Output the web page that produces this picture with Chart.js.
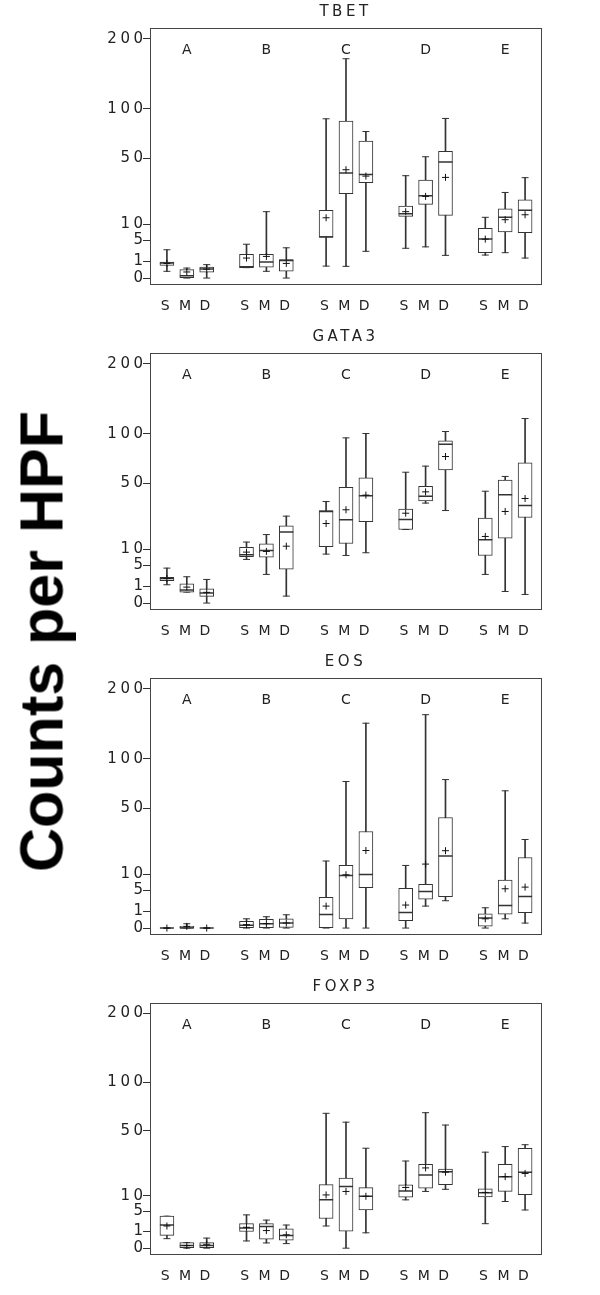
<!DOCTYPE html>
<html>
<head>
<meta charset="utf-8">
<script src="https://cdn.jsdelivr.net/npm/chart.js@4.4.1/dist/chart.umd.min.js"></script>
<style>
  html, body { margin: 0; padding: 0; background: #fff; }
  body { width: 600px; height: 1295px; position: relative; overflow: hidden; }
  canvas { position: absolute; left: 0; }
  #ylabel {
    position: absolute; left: -263px; top: 611px; width: 600px; height: 61px;
    line-height: 61px; font: bold 61px "Liberation Sans", Arial, sans-serif;
    text-align: center; color: #000; transform: rotate(-90deg);
  }
</style>
</head>
<body>
<canvas id="c0" width="600" height="325" style="top:0px"></canvas>
<canvas id="c1" width="600" height="325" style="top:325px"></canvas>
<canvas id="c2" width="600" height="325" style="top:650px"></canvas>
<canvas id="c3" width="600" height="320" style="top:975px"></canvas>
<div id="ylabel">Counts per HPF</div>
<script>
// Categories and axis ticks
const groups = ["A", "B", "C", "D", "E"];
const subsets = ["S", "M", "D"];
const yTicks = [0, 1, 5, 10, 50, 100, 200];

// Box stats per box, order: A-S, A-M, A-D, B-S, ... E-D
const tbetLow  = [0.16, 0, 0, 0.38, 0.16, 0, 0.5, 0.48, 2.5, 3.1, 3.4, 1.8, 1.85, 2.25, 1.4];
const tbetQ1   = [0.56, 0, 0.12, 0.38, 0.42, 0.17, 5.9, 24.9, 31.8, 13.3, 19, 13.7, 2.25, 7.4, 7.2];
const tbetMed  = [0.79, 0.02, 0.28, 0.45, 0.89, 1.09, 5.9, 38.5, 37.5, 14.5, 23.7, 47, 5.3, 12.9, 16.1];
const tbetQ3   = [0.89, 0.25, 0.42, 1.96, 1.96, 1.18, 16, 86, 65.5, 18.1, 33.5, 56, 8.6, 16.8, 21.4];
const tbetHigh = [2.8, 0.35, 0.63, 4.0, 15.4, 3.2, 88.6, 168, 75, 36.6, 51.4, 89, 12.9, 25.6, 35.2];
const tbetMean = [0.75, 0.13, 0.28, 1.4, 1.64, 0.75, 12.7, 41, 36.3, 15.4, 23.3, 35.4, 5.3, 11.9, 14];

const gataLow  = [1.17, 0.42, 0, 6.65, 2.87, 0.17, 8.37, 7.92, 8.84, 18.9, 34.9, 29.9, 2.87, 0.47, 0.26];
const gataQ1   = [1.74, 0.42, 0.16, 7.49, 7.38, 4.03, 11.1, 12.4, 23.1, 18.9, 36.5, 62, 7.9, 14.7, 25.6];
const gataMed  = [2.12, 0.59, 0.35, 8.15, 9.67, 17.7, 29.3, 24.2, 40.2, 24.4, 39.9, 88.2, 14, 40.9, 33.3];
const gataQ3   = [2.3, 1.3, 0.72, 10.9, 12.3, 20.9, 29.9, 46.7, 54.8, 30.8, 47.5, 91.9, 25.2, 52.8, 68.7];
const gataHigh = [4.27, 2.42, 1.95, 13, 16.4, 26.4, 36, 95.3, 100.4, 59.8, 65.5, 102.8, 43.7, 56, 118.9];
const gataMean = [2.12, 0.89, 0.4, 9.07, 9.31, 11.3, 22.1, 30.4, 40.7, 28.2, 43.2, 75, 15.5, 29.3, 38.2];

const eosLow  = [0, 0, 0, 0, 0, 0, 0, 0, 0, 0, 1.69, 2.61, 0, 0.3, 0.087];
const eosQ1   = [0, 0, 0, 0, 0, 0.002, 0, 0.3, 5.67, 0.19, 2.93, 3.42, 0.014, 0.68, 0.82];
const eosMed  = [0, 0, 0, 0.03, 0.065, 0.087, 0.65, 9.67, 10, 0.86, 4.69, 18.2, 0.35, 1.79, 3.5];
const eosQ3   = [0, 0.01, 0, 0.155, 0.26, 0.3, 3.28, 13.7, 32.6, 5.49, 6.65, 42.7, 0.72, 8.04, 17.4];
const eosHigh = [0, 0.065, 0, 0.3, 0.45, 0.62, 15.7, 75, 146.6, 13.7, 159, 77, 1.44, 65.8, 27.4];
const eosMean = [0, 0.01, 0, 0.04, 0.07, 0.09, 1.69, 9.92, 21, 1.85, 14.3, 20.9, 0.3, 5.4, 5.86];

const foxLow  = [0.33, 0, 0, 0.19, 0.1, 0.076, 1.79, 0, 0.86, 8.49, 11.7, 12.6, 2.18, 7.92, 5.3];
const foxQ1   = [0.59, 0, 0, 1.01, 0.3, 0.24, 3.21, 1.05, 5.3, 9.43, 13.1, 14.7, 9.55, 11.7, 10.4];
const foxMed  = [1.95, 0.025, 0.025, 1.49, 1.7, 0.59, 8.49, 13.8, 9.8, 11.9, 19.4, 21.2, 11.2, 18.6, 20.9];
const foxQ3   = [3.72, 0.11, 0.11, 2.18, 2.18, 1.35, 14.7, 17.9, 13.3, 14.6, 25.6, 22.7, 12.8, 25.6, 36.3];
const foxHigh = [3.72, 0.11, 0.37, 4.03, 2.87, 1.95, 66.1, 57.7, 36.3, 27.6, 66.7, 55.1, 33.5, 37.5, 38.9];
const foxMean = [1.79, 0.025, 0.056, 1.59, 1.13, 0.65, 10.3, 11.7, 9.8, 13.4, 23.4, 21, 11.3, 18.6, 20.3];

const panels = [
    { id: "c0", title: "TBET", low: tbetLow, q1: tbetQ1, med: tbetMed, q3: tbetQ3, high: tbetHigh, mean: tbetMean },
    { id: "c1", title: "GATA3", low: gataLow, q1: gataQ1, med: gataMed, q3: gataQ3, high: gataHigh, mean: gataMean },
    { id: "c2", title: "EOS", low: eosLow, q1: eosQ1, med: eosMed, q3: eosQ3, high: eosHigh, mean: eosMean },
    { id: "c3", title: "FOXP3", low: foxLow, q1: foxQ1, med: foxMed, q3: foxQ3, high: foxHigh, mean: foxMean }
];

const lineColor = "#333";
const textColor = "#222";
const fontFamily = '"DejaVu Sans", sans-serif';

// each group takes 4 slots on the x axis: 3 boxes and a gap
const xPos = groups.flatMap((g, gi) => subsets.map((s, si) => gi * 4 + si));

// y axis is square-root scaled
const pts = arr => arr.map((v, i) => ({ x: xPos[i], y: Math.sqrt(v) }));
const spans = (lo, hi) => lo.map((v, i) => ({ x: xPos[i], y: [Math.sqrt(v), Math.sqrt(hi[i])] }));

// Frame round the plot area and group letters at its top
const framePlugin = {
    id: "frame",
    beforeDraw(chart) {
        chart.ctx.letterSpacing = "3.5px";
    },
    afterDraw(chart) {
        const { ctx, chartArea: a } = chart;
        const x = chart.scales.x;
        ctx.save();
        ctx.strokeStyle = "#444";
        ctx.lineWidth = 1;
        ctx.strokeRect(Math.round(a.left) + 0.5, Math.round(a.top) + 0.5,
            Math.round(a.right - a.left), Math.round(a.bottom - a.top));
        ctx.letterSpacing = "0px";
        ctx.font = "14px " + fontFamily;
        ctx.fillStyle = textColor;
        ctx.textAlign = "center";
        ctx.textBaseline = "middle";
        groups.forEach((g, gi) => ctx.fillText(g, x.getPixelForValue(gi * 4 + 1), a.top + 23));
        ctx.restore();
    }
};

function makeChart(p) {
    const ctx = document.getElementById(p.id).getContext("2d");
    new Chart(ctx, {
        type: "bar",
        data: {
            datasets: [
                {
                    // whiskers
                    type: "bar",
                    data: spans(p.low, p.high),
                    backgroundColor: lineColor,
                    borderWidth: 0,
                    barThickness: 1,
                    grouped: false,
                    order: 5
                },
                {
                    // whisker caps
                    type: "scatter",
                    data: pts(p.low).concat(pts(p.high)),
                    pointStyle: "line",
                    pointRadius: 3.5,
                    pointBorderColor: lineColor,
                    pointBorderWidth: 1,
                    order: 4
                },
                {
                    // boxes
                    type: "bar",
                    data: spans(p.q1, p.q3),
                    backgroundColor: "#fff",
                    borderColor: lineColor,
                    borderWidth: 1,
                    borderSkipped: false,
                    barThickness: 14,
                    grouped: false,
                    order: 3
                },
                {
                    // medians
                    type: "scatter",
                    data: pts(p.med),
                    pointStyle: "line",
                    pointRadius: 7,
                    pointBorderColor: lineColor,
                    pointBorderWidth: 1.5,
                    order: 2
                },
                {
                    // means
                    type: "scatter",
                    data: pts(p.mean),
                    pointStyle: "cross",
                    pointRadius: 3.5,
                    pointBorderColor: "#111",
                    pointBorderWidth: 1,
                    order: 1
                }
            ]
        },
        options: {
            responsive: false,
            animation: false,
            events: [],
            devicePixelRatio: 1,
            layout: { padding: { left: 90, right: 59, top: 0, bottom: 0 } },
            plugins: {
                legend: { display: false },
                tooltip: { enabled: false },
                title: {
                    display: true,
                    fullSize: false,
                    text: p.title,
                    color: textColor,
                    font: { family: fontFamily, size: 15, weight: "normal", lineHeight: 1.12 },
                    padding: { top: 4, bottom: 7 }
                }
            },
            scales: {
                x: {
                    type: "linear",
                    min: -0.85,
                    max: 18.8,
                    offset: false,
                    grid: { display: false, drawTicks: false },
                    border: { display: false },
                    ticks: {
                        autoSkip: false,
                        maxRotation: 0,
                        padding: 14,
                        color: textColor,
                        font: { family: fontFamily, size: 14 },
                        callback: (v, i) => subsets[i % 3]
                    },
                    afterBuildTicks: s => { s.ticks = xPos.map(v => ({ value: v })); },
                    afterFit: s => { s.height = 41; }
                },
                y: {
                    type: "linear",
                    min: -0.35,
                    max: 14.79,
                    grid: { display: true, drawOnChartArea: false, drawTicks: true, tickLength: 7, color: lineColor },
                    border: { display: false },
                    ticks: {
                        autoSkip: false,
                        padding: -3.5,
                        color: textColor,
                        font: { family: fontFamily, size: 15 },
                        callback: (v, i) => String(yTicks[i])
                    },
                    afterBuildTicks: s => { s.ticks = yTicks.map(v => ({ value: Math.sqrt(v) })); },
                    afterFit: s => { s.width = 60; }
                }
            }
        },
        plugins: [framePlugin]
    });
}

panels.forEach(makeChart);
</script>
</body>
</html>
